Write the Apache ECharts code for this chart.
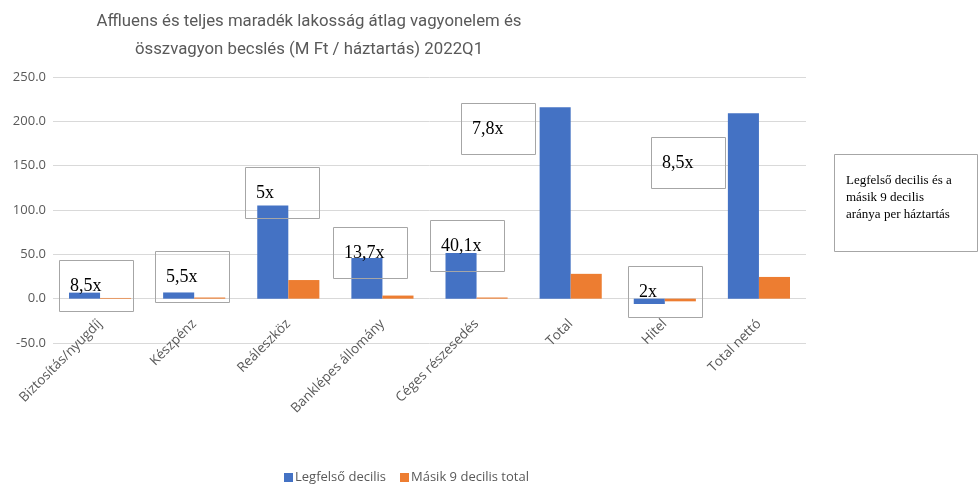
<!DOCTYPE html>
<html>
<head>
<meta charset="utf-8">
<script src="https://cdn.jsdelivr.net/npm/echarts@6/dist/echarts.min.js"></script>
<style>
  html, body { margin: 0; padding: 0; background: #fff; }
  #main { width: 978px; height: 485px; }
</style>
</head>
<body>
<div id="main"></div>
<script>
var categories = ['Biztosítás/nyugdíj', 'Készpénz', 'Reáleszköz', 'Banklépes állomány', 'Céges részesedés', 'Total', 'Hitel', 'Total nettó'];
var topDecile = [6.8, 7.0, 105, 46, 51.5, 216, -6, 209];
var otherNine = [0.8, 1.3, 21, 3.5, 1.3, 28, -3, 24.5];
var seriesNames = ['Legfelső decilis', 'Másik 9 decilis total'];
var titleLines = ['Affluens és teljes maradék lakosság átlag vagyonelem és', 'összvagyon becslés (M Ft / háztartás) 2022Q1'];

// ratio notes: [text, box left, box top]
var notes = [
  ['8,5x', 59, 260],
  ['5,5x', 155, 251],
  ['5x', 245, 167],
  ['13,7x', 333, 227],
  ['40,1x', 430, 220],
  ['7,8x', 461, 103],
  ['2x', 628, 266],
  ['8,5x', 651, 137]
];
var sideNote = 'Legfelső decilis és a\nmásik 9 decilis\naránya per háztartás';

var chart = echarts.init(document.getElementById('main'));

var graphics = [];
notes.forEach(function (n) {
  graphics.push({
    type: 'rect', left: n[1], top: n[2], z: 100,
    shape: { width: 74, height: 51 },
    style: { fill: 'rgba(0,0,0,0)', stroke: '#a6a6a6', lineWidth: 1 }
  });
  graphics.push({
    type: 'text', left: n[1] + 11, top: n[2] + 17, z: 101,
    style: { text: n[0], fill: '#000', font: '18px "Liberation Serif"' }
  });
});
graphics.push({
  type: 'rect', left: 834, top: 154, z: 100,
  shape: { width: 143, height: 97 },
  style: { fill: '#fff', stroke: '#a6a6a6', lineWidth: 1 }
});
graphics.push({
  type: 'text', left: 846, top: 172, z: 101,
  style: { text: sideNote, fill: '#000', font: '13px "Liberation Serif"', lineHeight: 17 }
});

var titleStyle = { fontFamily: 'Roboto', fontSize: 16.8, fontWeight: 'normal', color: '#595959' };

chart.setOption({
  animation: false,
  title: [
    { text: titleLines[0], left: 304, top: 8, textAlign: 'center', textStyle: titleStyle },
    { text: titleLines[1], left: 304, top: 36, textAlign: 'center', textStyle: titleStyle }
  ],
  legend: {
    top: 471, left: 284, padding: 0,
    itemWidth: 9, itemHeight: 9, itemGap: 14,
    icon: 'rect',
    textStyle: { fontFamily: 'Open Sans', fontSize: 13, color: '#595959', padding: [0, 0, 0, -3] },
    data: seriesNames
  },
  grid: { left: 53, right: 172, top: 77, bottom: 142 },
  xAxis: {
    type: 'category',
    data: categories,
    offset: -44.3,
    axisLine: { show: false, onZero: false },
    axisTick: { show: false },
    axisLabel: { rotate: 45, interval: 0, fontFamily: 'Open Sans', fontSize: 13.5, color: '#595959', margin: 23 }
  },
  yAxis: {
    type: 'value', min: -50, max: 250, interval: 50,
    axisLine: { show: false },
    axisTick: { show: false },
    splitLine: { lineStyle: { color: '#d9d9d9', width: 1 } },
    axisLabel: {
      fontFamily: 'Open Sans', fontSize: 13, color: '#595959', margin: 7,
      formatter: function (v) { return v.toFixed(1); }
    }
  },
  series: [
    {
      name: seriesNames[0], type: 'bar', data: topDecile,
      barGap: '0%', barCategoryGap: '34%',
      itemStyle: { color: '#4472c4' }
    },
    {
      name: seriesNames[1], type: 'bar', data: otherNine,
      itemStyle: { color: '#ed7d31' }
    }
  ],
  graphic: graphics
});
</script>
</body>
</html>
